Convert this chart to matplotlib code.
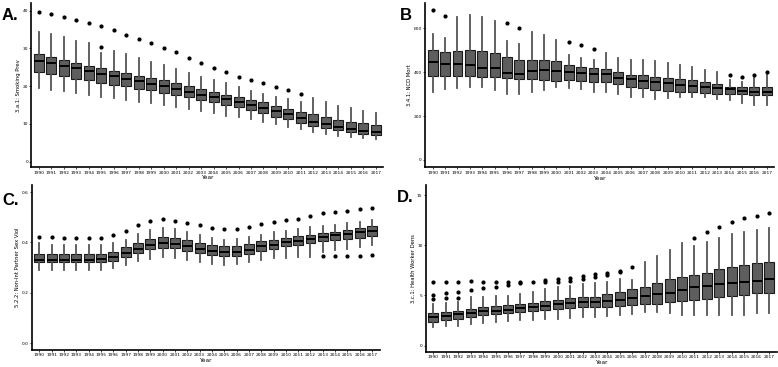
import matplotlib.pyplot as plt

years = list(range(1990, 2018))

# A. 3.a.1 Smoking prevalence
a_lo = [19.4, 19.0, 18.6, 18.1, 17.6, 17.2, 16.8, 16.3, 15.8, 15.5, 14.9, 14.5, 14.0, 13.4,
        12.8, 12.2, 11.7, 11.2, 10.6, 9.9, 9.3, 8.7, 7.9, 7.3, 6.9, 6.5, 6.3, 6.0]
a_q1 = [23.8, 23.2, 22.6, 22.0, 21.5, 20.9, 20.4, 19.9, 19.3, 18.9, 18.3, 17.6, 17.0, 16.4,
        15.8, 15.1, 14.4, 13.7, 12.8, 11.9, 11.3, 10.3, 9.5, 8.9, 8.3, 7.8, 7.2, 7.0]
a_med = [26.7, 26.0, 25.4, 24.7, 24.0, 23.2, 22.6, 21.9, 21.3, 20.6, 20.0, 19.2, 18.5, 17.7,
         17.0, 16.5, 15.9, 15.0, 14.3, 13.4, 12.6, 11.6, 10.6, 10.0, 9.3, 8.7, 8.2, 7.8]
a_q3 = [28.4, 27.6, 26.8, 26.2, 25.4, 24.7, 24.0, 23.4, 22.7, 22.1, 21.5, 20.8, 20.0, 19.2,
        18.5, 17.7, 17.1, 16.3, 15.7, 14.8, 14.0, 13.2, 12.5, 11.7, 11.0, 10.4, 10.1, 9.7]
a_hi = [34.3, 33.7, 32.9, 32.0, 31.3, 28.7, 29.4, 28.4, 27.4, 26.4, 25.5, 24.5, 23.5, 22.5,
        21.6, 20.8, 19.7, 18.8, 18.0, 17.2, 16.6, 15.9, 16.9, 15.9, 14.8, 14.1, 13.4, 13.0]
a_out = [[39.6], [39.0], [38.4], [37.6], [36.7], [35.9, 30.4], [34.9], [33.6], [32.6], [31.4],
         [30.0], [28.9], [27.5], [26.1], [24.7], [23.6], [22.5], [21.5], [20.8], [19.7],
         [19.0], [17.9], [], [], [], [], [], []]

# B. 3.4.1 NCD mortality
b_lo = [312, 323, 328, 335, 334, 320, 300, 303, 312, 320, 331, 328, 323, 312,
        312, 303, 288, 285, 280, 282, 285, 288, 288, 280, 274, 262, 251, 251]
b_q1 = [382, 382, 382, 382, 377, 377, 372, 369, 369, 365, 362, 366, 362, 357,
        354, 346, 334, 328, 320, 315, 311, 311, 306, 303, 303, 300, 297, 295]
b_med = [449, 438, 438, 431, 420, 420, 397, 392, 408, 411, 405, 400, 397, 392,
         392, 374, 369, 360, 357, 349, 343, 338, 334, 326, 323, 315, 311, 311]
b_q3 = [500, 492, 495, 503, 495, 488, 469, 457, 458, 458, 451, 431, 423, 418,
        415, 403, 388, 388, 377, 372, 369, 365, 354, 346, 334, 331, 331, 331]
b_hi = [574, 558, 652, 662, 654, 635, 543, 531, 585, 569, 549, 480, 465, 454,
        489, 466, 457, 457, 451, 443, 435, 426, 412, 400, 366, 357, 374, 388]
b_out = [[682], [658], [], [], [], [], [623], [600], [], [], [], [538], [523], [508],
         [], [], [], [], [], [], [], [], [], [], [388], [377], [388], [400]]

# C. 5.2.2 Non-intimate partner sexual violence
c_lo = [0.291, 0.291, 0.291, 0.291, 0.291, 0.291, 0.298, 0.309, 0.326, 0.336, 0.342, 0.338,
        0.331, 0.323, 0.315, 0.311, 0.314, 0.321, 0.331, 0.338, 0.340, 0.344, 0.344, 0.364,
        0.368, 0.373, 0.380, 0.388]
c_q1 = [0.321, 0.321, 0.321, 0.321, 0.321, 0.322, 0.328, 0.342, 0.358, 0.375, 0.377, 0.376,
        0.367, 0.358, 0.350, 0.346, 0.347, 0.355, 0.367, 0.375, 0.384, 0.389, 0.397, 0.404,
        0.408, 0.413, 0.417, 0.424]
c_med = [0.331, 0.331, 0.330, 0.330, 0.331, 0.335, 0.344, 0.360, 0.375, 0.391, 0.397, 0.395,
         0.384, 0.375, 0.367, 0.362, 0.364, 0.371, 0.384, 0.391, 0.401, 0.407, 0.415, 0.421,
         0.428, 0.434, 0.440, 0.444]
c_q3 = [0.355, 0.354, 0.353, 0.353, 0.354, 0.356, 0.363, 0.380, 0.399, 0.413, 0.421, 0.417,
        0.408, 0.399, 0.388, 0.384, 0.385, 0.395, 0.404, 0.411, 0.417, 0.424, 0.430, 0.437,
        0.442, 0.450, 0.457, 0.464]
c_hi = [0.397, 0.391, 0.391, 0.391, 0.391, 0.391, 0.397, 0.411, 0.433, 0.449, 0.458, 0.453,
        0.441, 0.430, 0.417, 0.411, 0.413, 0.421, 0.430, 0.440, 0.446, 0.453, 0.460, 0.464,
        0.470, 0.477, 0.483, 0.490]
c_out = [[0.421], [0.421], [0.419], [0.419], [0.419], [0.419], [0.428], [0.446], [0.470],
         [0.486], [0.494], [0.487], [0.479], [0.469], [0.457], [0.452], [0.453], [0.461],
         [0.473], [0.481], [0.490], [0.495], [0.506], [0.515, 0.347], [0.519, 0.347],
         [0.526, 0.347], [0.532, 0.347], [0.538, 0.350]]

# D. 3.c.1 Health worker density
d_lo = [1.89, 1.99, 1.99, 2.12, 2.22, 2.32, 2.46, 2.56, 2.56, 2.62, 2.66, 2.72, 2.82, 2.89,
        2.95, 3.05, 3.15, 3.39, 3.32, 3.22, 3.05, 3.05, 3.05, 3.05, 3.05, 3.05, 3.22, 3.29]
d_q1 = [2.32, 2.56, 2.62, 2.82, 3.05, 3.15, 3.29, 3.39, 3.45, 3.55, 3.65, 3.72, 3.82, 3.85,
        3.88, 3.95, 4.05, 4.12, 4.15, 4.35, 4.48, 4.55, 4.65, 4.81, 4.95, 5.04, 5.21, 5.28]
d_med = [2.89, 2.99, 3.12, 3.29, 3.45, 3.48, 3.55, 3.78, 3.82, 3.98, 4.12, 4.25, 4.35, 4.38,
         4.48, 4.58, 4.71, 4.95, 5.11, 5.21, 5.54, 5.87, 5.97, 6.11, 6.21, 6.37, 6.44, 6.60]
d_q3 = [3.22, 3.32, 3.45, 3.65, 3.82, 3.95, 4.05, 4.15, 4.28, 4.45, 4.58, 4.71, 4.81, 4.88,
        5.11, 5.31, 5.64, 5.87, 6.21, 6.64, 6.87, 7.04, 7.27, 7.60, 7.80, 8.03, 8.20, 8.36]
d_hi = [4.15, 4.28, 4.38, 4.81, 4.81, 4.95, 4.98, 5.11, 5.38, 5.61, 5.81, 5.97, 6.14, 6.27,
        6.37, 6.60, 6.54, 8.36, 8.93, 9.53, 10.19, 9.96, 10.29, 10.69, 11.12, 11.35, 11.52, 11.75]
d_out = [[6.31, 5.04, 4.61], [6.37, 5.21, 4.71], [6.37, 5.38, 4.78], [6.44, 5.54],
         [6.37, 5.71], [6.37, 5.87], [6.37, 6.07], [6.31, 6.27], [6.31], [6.54, 6.31],
         [6.60, 6.37], [6.77, 6.47], [6.94, 6.60], [7.14, 6.87], [7.27, 7.04], [7.47, 7.37],
         [7.80], [], [], [], [], [10.75], [11.28], [11.85], [12.28], [12.68], [12.91], [13.18]]

W, H = 778, 367
fig = plt.figure(figsize=(W / 100, H / 100), dpi=100)


def panel(px, lo, q1, med, q3, hi, out, ylabel, yticks, yticklabels, ylim, letter, lpos):
    left, right, top, bottom = px
    ax = fig.add_axes([left / W, 1 - bottom / H, (right - left) / W, (bottom - top) / H])
    stats = [dict(whislo=a, q1=b, med=c, q3=d, whishi=e, fliers=f)
             for a, b, c, d, e, f in zip(lo, q1, med, q3, hi, out)]
    ax.bxp(stats, positions=range(len(years)), widths=0.8, patch_artist=True,
           showcaps=False,
           boxprops=dict(facecolor='#5e5e5e', edgecolor='#1a1a1a', linewidth=0.8),
           whiskerprops=dict(color='#555555', linewidth=1.3),
           medianprops=dict(color='black', linewidth=1.4),
           flierprops=dict(marker='o', markerfacecolor='black', markeredgecolor='black',
                           markersize=2.0))
    ax.set_xlim(-0.6, len(years) - 0.4)
    ax.set_ylim(*ylim)
    ax.set_xticks(range(len(years)))
    ax.set_xticklabels([str(y) for y in years], fontsize=3.2)
    ax.set_yticks(yticks)
    ax.set_yticklabels(yticklabels, fontsize=3.2)
    ax.tick_params(length=1.5, width=0.5, pad=1)
    ax.set_xlabel('Year', fontsize=4.2, labelpad=0.5)
    ax.set_ylabel(ylabel, fontsize=3.8, labelpad=1)
    for s in ['top', 'right']:
        ax.spines[s].set_visible(False)
    for s in ['left', 'bottom']:
        ax.spines[s].set_linewidth(1.2)
    fig.text(lpos[0] / W, 1 - lpos[1] / H, letter, fontsize=12, fontweight='bold',
             ha='left', va='baseline', family='Liberation Sans')
    return ax


panel((31.5, 383.2, 3, 167.3), a_lo, a_q1, a_med, a_q3, a_hi, a_out,
      '3.a.1: Smoking Prev', [0, 10, 20, 30, 40], ['0', '10', '20', '30', '40'],
      (-1.5, 42), 'A.', (2, 20))
panel((425.3, 774.1, 3, 167.4), b_lo, b_q1, b_med, b_q3, b_hi, b_out,
      '3.4.1: NCD Mort', [0, 200, 400, 600], ['0', '200', '400', '600'],
      (-34, 716), 'B', (400, 19.5))
panel((32, 379.5, 185, 350), c_lo, c_q1, c_med, c_q3, c_hi, c_out,
      '5.2.2: Non-Int Partner Sex Viol', [0, 0.2, 0.4, 0.6], ['0.0', '0.2', '0.4', '0.6'],
      (-0.027, 0.628), 'C.', (2, 205))
panel((426, 776.5, 185, 351.7), d_lo, d_q1, d_med, d_q3, d_hi, d_out,
      '3.c.1: Health Worker Dens', [0, 5, 10, 15], ['0', '5', '10', '15'],
      (-0.6, 16), 'D.', (397, 202))

fig.savefig('out.png', dpi=100)
